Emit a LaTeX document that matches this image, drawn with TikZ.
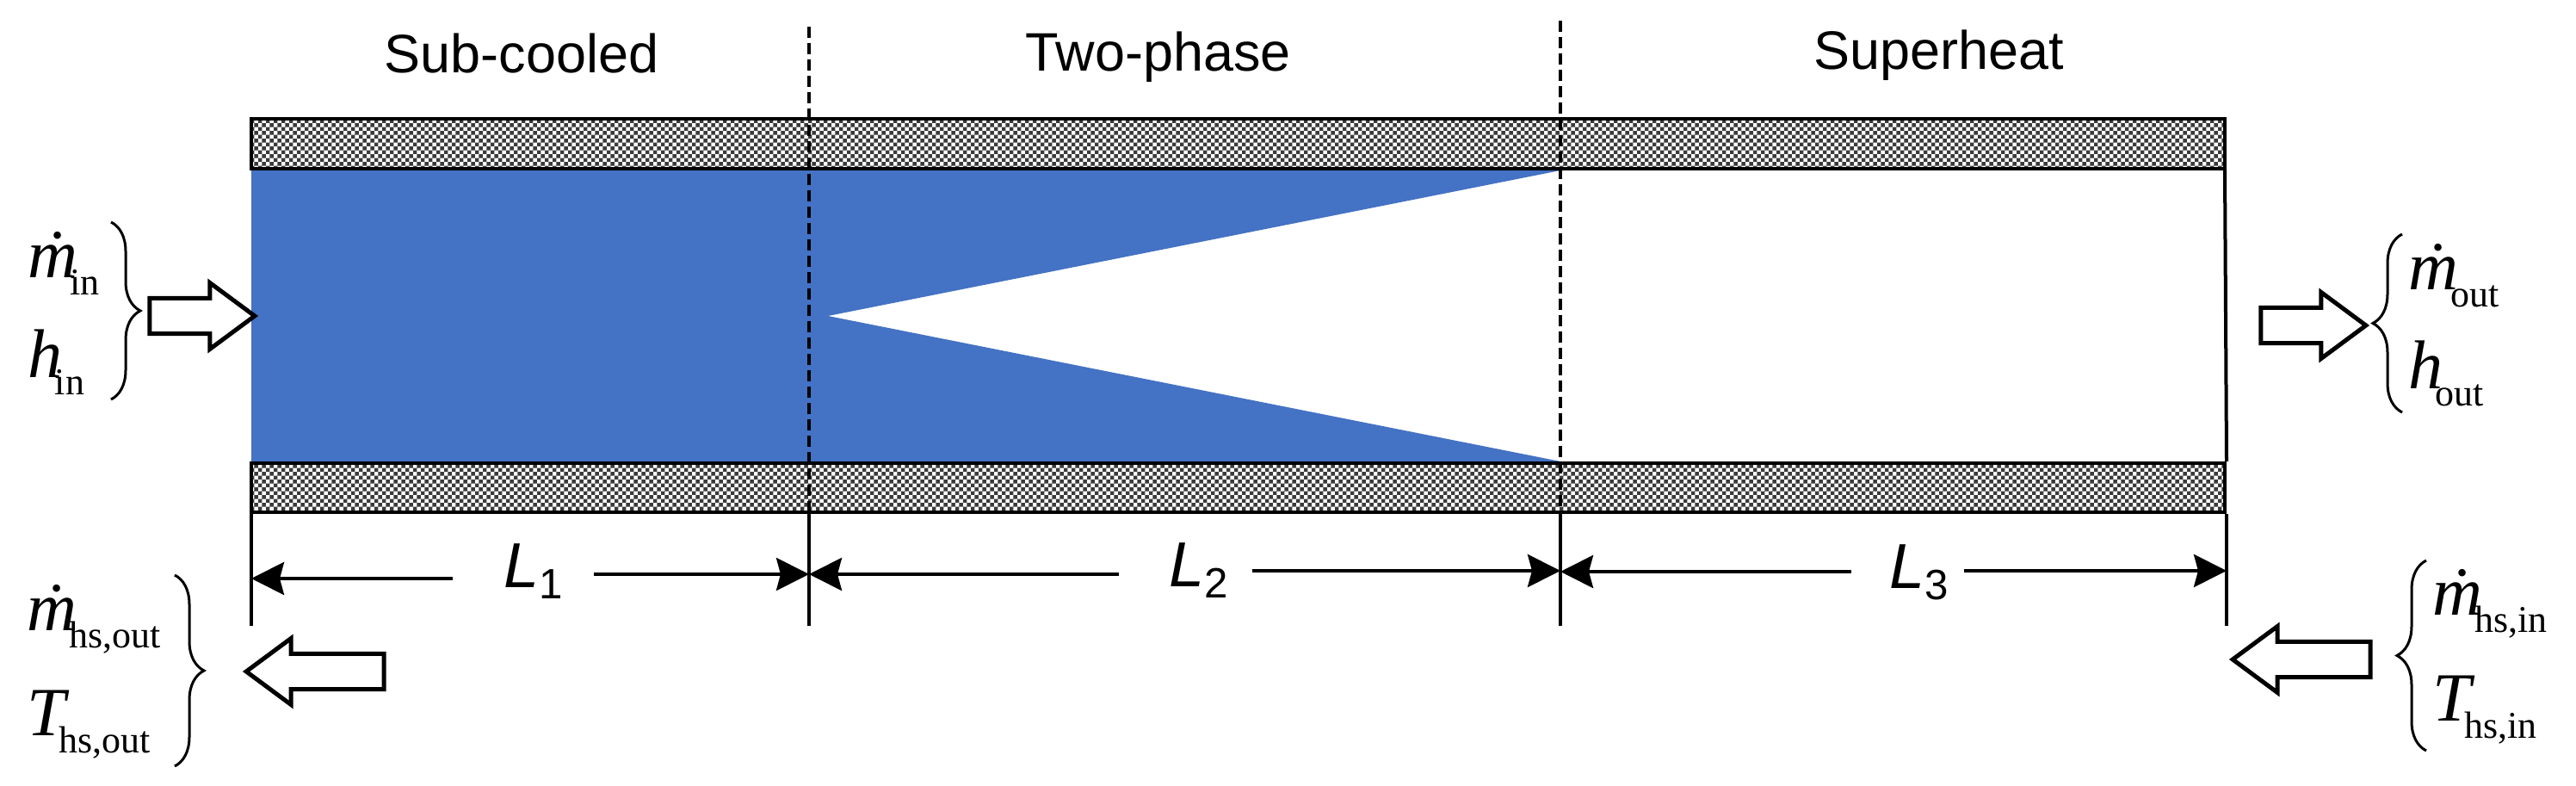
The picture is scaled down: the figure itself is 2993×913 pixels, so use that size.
\documentclass[tikz,border=0pt]{standalone}
\usepackage{fontspec}
\setmainfont{Liberation Serif}
\setsansfont{Liberation Sans}
\usepackage{xcolor}
\usetikzlibrary{arrows.meta,patterns,shapes.arrows,decorations.pathreplacing}
\definecolor{liquidcolor}{RGB}{68,114,196}
\definecolor{wallcolor}{RGB}{58,58,58}
\pgfdeclarepatternformonly{wall checks}{\pgfpointorigin}{\pgfqpoint{2.68pt}{2.68pt}}{\pgfqpoint{2.68pt}{2.68pt}}{
  \pgfpathrectangle{\pgfpointorigin}{\pgfqpoint{1.34pt}{1.34pt}}
  \pgfpathrectangle{\pgfqpoint{1.34pt}{1.34pt}}{\pgfqpoint{1.34pt}{1.34pt}}
  \pgfusepath{fill}
}
\newcommand{\subtxt}[2][-0.09cm]{\kern#1\raisebox{-0.19cm}{\fontsize{12.5}{12.5}\selectfont #2}}
\newcommand{\mdot}{\textit{\.m}}
\newcommand{\dimsub}[1]{\raisebox{-0.12cm}{\fontsize{14}{14}\selectfont #1}}
\tikzset{
  wall/.style={
    draw=black,
    line width=0.045cm,
    pattern=wall checks,
    pattern color=wallcolor
  },
  boundary/.style={
    draw=black,
    line width=0.04cm,
    dash pattern=on 0.13cm off 0.06cm
  },
  tick/.style={
    draw=black,
    line width=0.04cm
  },
  dimarrow/.style={
    -{Stealth[length=0.38cm,width=0.38cm,inset=0.05cm]},
    line width=0.04cm
  },
  blockarrow/.style={
    single arrow,
    draw=black,
    fill=white,
    line width=0.05cm,
    inner xsep=0pt,
    inner ysep=0.18cm,
    minimum height=1.22cm,
    single arrow head extend=0.18cm,
    single arrow tip angle=73
  },
  curly/.style={
    draw=black,
    line width=0.03cm,
    decorate,
    decoration={brace,amplitude=0.34cm}
  },
  regionlabel/.style={
    font=\sffamily\fontsize{17.9}{20}\selectfont,
    anchor=base west,
    inner sep=0pt
  },
  dimlabel/.style={
    font=\sffamily\fontsize{21}{24}\selectfont,
    anchor=base west,
    inner sep=0pt
  },
  symlabel/.style={
    font=\fontsize{22.8}{24}\selectfont,
    anchor=base west,
    inner sep=0pt
  }
}

\begin{document}
\begin{tikzpicture}[x=0.01cm,y=-0.01cm]
  \useasboundingbox (0,0) rectangle (2993,913);
  % Liquid region with the vapour wedge cut out
  \fill[liquidcolor] (292,198) -- (1813,198) -- (962,367) -- (1813,536) -- (292,536) -- cycle;

  % Walls
  \draw[wall] (292,138) rectangle (2585,196);
  \draw[wall] (292,538) rectangle (2585,595);
  \draw[tick] (2585,198) -- (2587,536);

  % Zone boundaries and end ticks
  \coordinate (b1top) at (940,31);
  \coordinate (b1low) at (940,597);
  \coordinate (b1end) at (940,727);
  \coordinate (b2top) at (1813,24);
  \coordinate (b2low) at (1813,597);
  \coordinate (b2end) at (1813,727);
  \coordinate (t0top) at (292,597);
  \coordinate (t0end) at (292,727);
  \coordinate (t3top) at (2587,597);
  \coordinate (t3end) at (2587,727);
  \draw[boundary] (b1top) -- (b1low);
  \draw[boundary] (b2top) -- (b2low);
  \draw[tick] (b1low) -- (b1end);
  \draw[tick] (b2low) -- (b2end);
  \draw[tick] (t0top) -- (t0end);
  \draw[tick] (t3top) -- (t3end);

  \node[regionlabel] (subcooled) at (446,85) {Sub-cooled};
  \node[regionlabel] (twophase) at (1191,83) {Two-phase};
  \node[regionlabel] (superheat) at (2107,81) {Superheat};

  % Lengths
  \node[dimlabel] (L1) at (585,683) {\textit{L}\dimsub{1}};
  \node[dimlabel] (L2) at (1358,682) {\textit{L}\dimsub{2}};
  \node[dimlabel] (L3) at (2195,684) {\textit{L}\dimsub{3}};
  \coordinate (a1) at (292,672);
  \coordinate (a2) at (940,667);
  \coordinate (a3) at (940,667);
  \coordinate (a4) at (1813,663);
  \coordinate (a5) at (1813,664);
  \coordinate (a6) at (2587,663);
  \draw[dimarrow,shorten <=0.59cm] (L1.west |- a1) -- (a1);
  \draw[dimarrow,shorten <=0.35cm] (L1.east |- a2) -- (a2);
  \draw[dimarrow,shorten <=0.58cm] (L2.west |- a3) -- (a3);
  \draw[dimarrow,shorten <=0.27cm] (L2.east |- a4) -- (a4);
  \draw[dimarrow,shorten <=0.44cm] (L3.west |- a5) -- (a5);
  \draw[dimarrow,shorten <=0.17cm] (L3.east |- a6) -- (a6);

  % Refrigerant in and out
  \node[symlabel] (mdotin) at (32,323) {\mdot\subtxt{in}};
  \node[symlabel] (hin) at (32,439) {\textit{h}\subtxt{in}};
  \draw[curly] (129,258) -- (129,464);
  \node[blockarrow] (arrowin) at (221,367) {};

  \node[symlabel] (mdotout) at (2798,337) {\mdot\subtxt{out}};
  \node[symlabel] (hout) at (2798,452) {\textit{h}\subtxt{out}};
  \draw[curly] (2791,479) -- (2791,272);
  \node[blockarrow] (arrowout) at (2674,378) {};

  % Heat source in and out
  \node[symlabel] (mdothsout) at (31,733) {\mdot\subtxt{hs,out}};
  \node[symlabel] (Thsout) at (31,855) {\textit{T}\subtxt[-0.13cm]{hs,out}};
  \draw[curly] (203,668) -- (203,890);
  \node[blockarrow,minimum height=1.6cm,shape border rotate=180] (arrowhsout) at (380,780) {};

  \node[symlabel] (mdothsin) at (2826,715) {\mdot\subtxt{hs,in}};
  \node[symlabel] (Thsin) at (2826,838) {\textit{T}\subtxt[-0.13cm]{hs,in}};
  \draw[curly] (2819,872) -- (2819,651);
  \node[blockarrow,minimum height=1.6cm,shape border rotate=180] (arrowhsin) at (2688,766) {};
\end{tikzpicture}
\end{document}
